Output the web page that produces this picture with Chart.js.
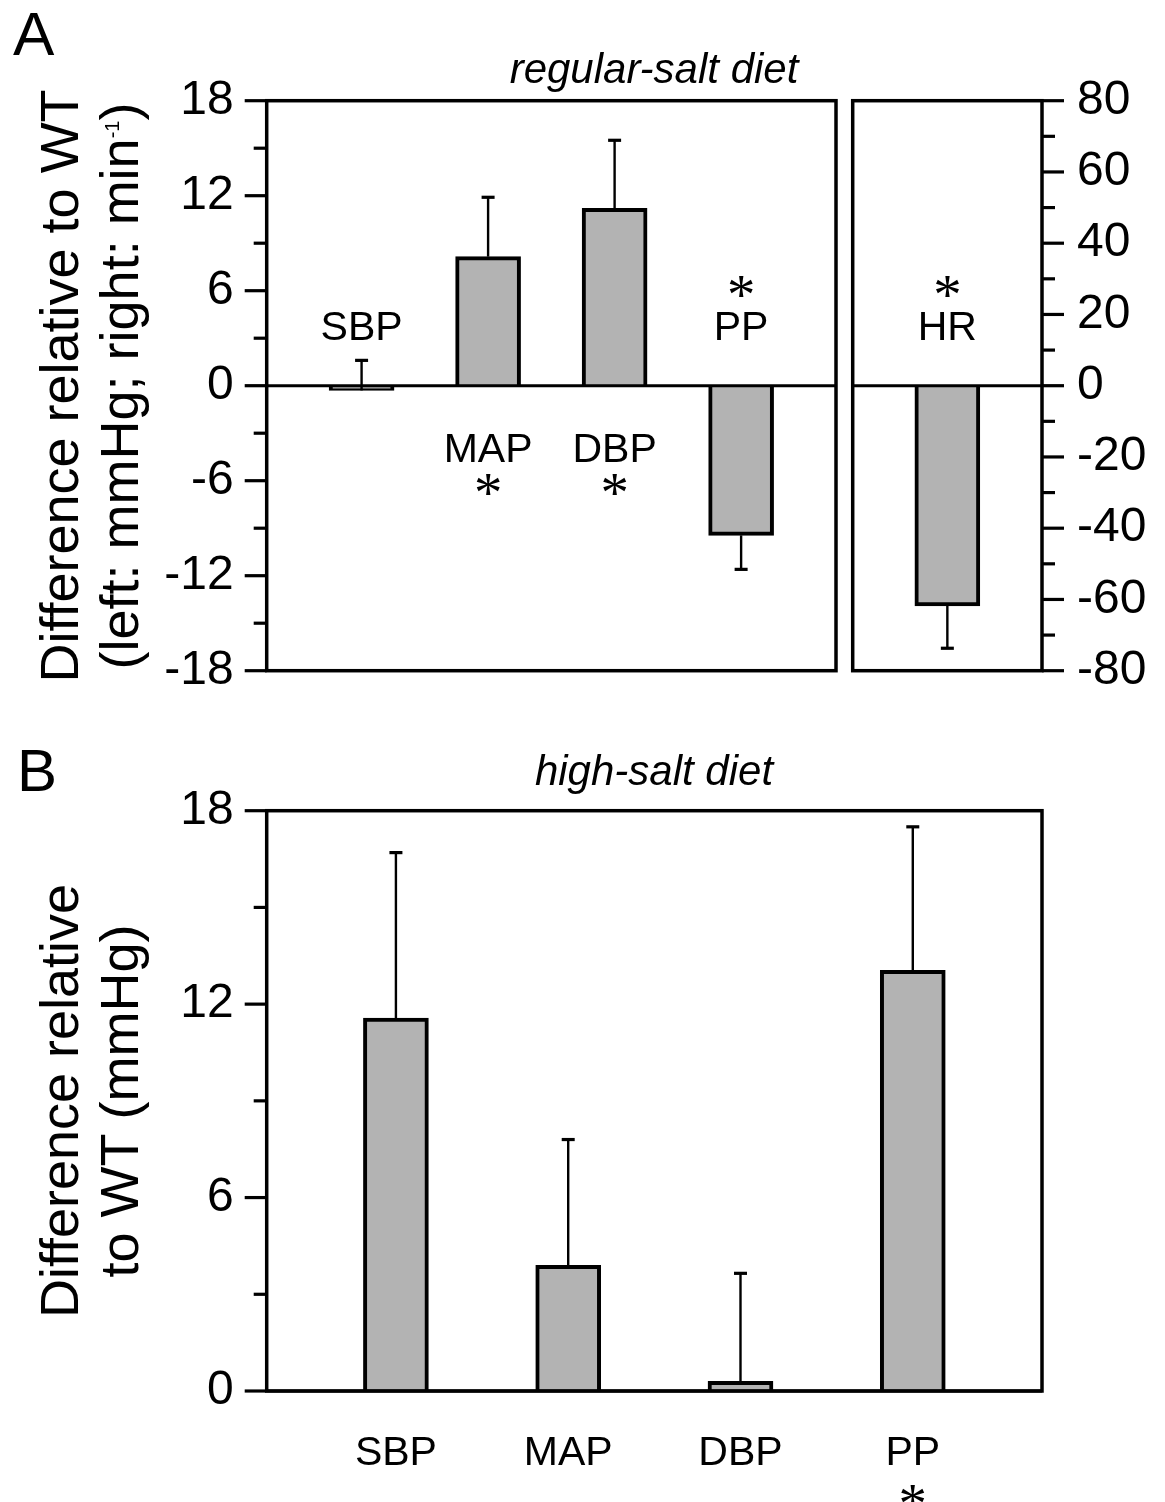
<!DOCTYPE html>
<html>
<head>
<meta charset="utf-8">
<script src="https://cdn.jsdelivr.net/npm/chart.js@4.4.0/dist/chart.umd.min.js"></script>
<style>
  html, body { margin: 0; padding: 0; background: #fff; }
  #page { position: relative; width: 1165px; height: 1502px; overflow: hidden;
          font-family: "Liberation Sans", Arial, sans-serif; color: #000; }
  #page canvas { position: absolute; left: 0; top: 0; }
  .txt { position: absolute; white-space: nowrap; line-height: 1; }
  .ytitle { position: absolute; width: 700px; height: 120px; font-size: 54px; line-height: 60px;
            text-align: center; white-space: nowrap; transform: rotate(-90deg); }
  .sup { font-size: 20px; position: relative; top: -19px; }
</style>
</head>
<body>
<div id="page">
  <canvas id="chartA" width="1165" height="1502"></canvas>
  <canvas id="chartHR" width="1165" height="1502"></canvas>
  <canvas id="chartB" width="1165" height="1502"></canvas>

  <div class="txt" style="left:13px; top:2.5px; font-size:62px;">A</div>
  <div class="txt" style="left:354px; width:600px; top:48.4px; font-size:42px; font-style:italic; text-align:center;">regular-salt diet</div>
  <div class="ytitle" style="left:-260.7px; top:325.7px;">Difference relative to WT<br>(left: mmHg; right: min<span class="sup">-1</span>)</div>

  <div class="txt" style="left:17px; top:741px; font-size:60px;">B</div>
  <div class="txt" style="left:354px; width:600px; top:750.4px; font-size:42px; font-style:italic; text-align:center;">high-salt diet</div>
  <div class="ytitle" style="left:-260.7px; top:1040.8px;">Difference relative<br>to WT (mmHg)</div>
</div>

<script>
// panel A, regular-salt diet (mmHg, left axis)
const categoriesA = ['SBP', 'MAP', 'DBP', 'PP'];
const regularSaltValues = [-0.3, 8.15, 11.2, -9.45];
const regularSaltErrorTips = [1.6, 11.9, 15.5, -11.6];
const regularSaltSignificant = [false, true, true, true];

// panel A, heart rate (min-1, right axis)
const categoriesHR = ['HR'];
const heartRateValues = [-61.8];
const heartRateErrorTips = [-73.7];
const heartRateSignificant = [true];

// panel B, high-salt diet (mmHg)
const categoriesB = ['SBP', 'MAP', 'DBP', 'PP'];
const highSaltValues = [11.57, 3.9, 0.3, 13.05];
const highSaltErrorTips = [16.7, 7.8, 3.65, 17.5];
const highSaltSignificant = [false, false, false, true];

// axis tick labels
const leftTicksA = [-18, -12, -6, 0, 6, 12, 18];
const rightTicksA = [-80, -60, -40, -20, 0, 20, 40, 60, 80];
const ticksB = [0, 6, 12, 18];

Chart.defaults.font.family = '"Liberation Sans", Arial, sans-serif';
Chart.defaults.color = '#000';

const BAR_FILL = '#b3b3b3';

function xy(vals) {
    return vals.map((v, i) => ({ x: i + 1, y: v }));
}

function line(ctx, x1, y1, x2, y2) {
    ctx.beginPath();
    ctx.moveTo(x1, y1);
    ctx.lineTo(x2, y2);
    ctx.stroke();
}

// asterisk scaled so the glyph is about 21px tall, centred on (x, cy)
function drawStar(ctx, x, cy) {
    ctx.font = '100px "Liberation Serif", serif';
    let m = ctx.measureText('*');
    const size = 100 * 21 / (m.actualBoundingBoxAscent + m.actualBoundingBoxDescent);
    ctx.font = size + 'px "Liberation Serif", serif';
    m = ctx.measureText('*');
    ctx.textAlign = 'center';
    ctx.textBaseline = 'alphabetic';
    ctx.fillText('*', x, cy + (m.actualBoundingBoxAscent - m.actualBoundingBoxDescent) / 2);
}

// zero line, error bars, frame, tick marks and category labels
const panelMarks = {
    id: 'panelMarks',
    afterDatasetsDraw(chart, args, opts) {
        const ctx = chart.ctx;
        const area = chart.chartArea;
        const y = chart.scales.y;
        const zero = y.getPixelForValue(0);
        const bars = chart.getDatasetMeta(0).data;
        const values = chart.data.datasets[0].data.map(d => d.y);

        ctx.save();
        ctx.strokeStyle = '#000';
        ctx.fillStyle = '#000';

        ctx.lineWidth = 3;
        line(ctx, area.left, zero, area.right, zero);

        bars.forEach((bar, i) => {
            const tip = y.getPixelForValue(opts.errorTips[i]);
            ctx.lineWidth = 2.4;
            line(ctx, bar.x, bar.y, bar.x, tip);
            ctx.lineWidth = 3.2;
            line(ctx, bar.x - 6.5, tip, bar.x + 6.5, tip);
        });

        ctx.lineWidth = 3.5;
        ctx.strokeRect(area.left, area.top, area.right - area.left, area.bottom - area.top);

        const ticks = y.ticks.map(t => t.value);
        const side = y.position === 'right' ? 1 : -1;
        const edge = side > 0 ? area.right : area.left;
        ctx.lineWidth = 3.2;
        ticks.forEach((v, k) => {
            const py = y.getPixelForValue(v);
            line(ctx, edge, py, edge + side * 22, py);
            if (k < ticks.length - 1) {
                const pm = y.getPixelForValue((v + ticks[k + 1]) / 2);
                line(ctx, edge, pm, edge + side * 13, pm);
            }
        });

        opts.labels.forEach((name, i) => {
            const bx = bars[i].x;
            let labelBase, starMid;
            if (opts.below) {
                labelBase = area.bottom + 74;
                starMid = area.bottom + 105;
            } else if (values[i] >= 0) {
                labelBase = zero + 76;
                starMid = zero + 99.5;
            } else {
                labelBase = zero - 46;
                starMid = zero - 99;
            }
            ctx.font = '41px "Liberation Sans", Arial, sans-serif';
            ctx.textAlign = 'center';
            ctx.textBaseline = 'alphabetic';
            ctx.fillText(name, bx, labelBase);
            if (opts.significant[i]) drawStar(ctx, bx, starMid);
        });
        ctx.restore();
    }
};

function barDataset(values) {
    return {
        data: xy(values),
        backgroundColor: BAR_FILL,
        borderColor: '#000',
        borderWidth: 4,
        barThickness: 65
    };
}

function yAxis(min, max, tickList, position, width, pad) {
    return {
        type: 'linear',
        position: position,
        min: min,
        max: max,
        grid: { display: false, drawTicks: false },
        border: { display: false },
        afterBuildTicks: s => { s.ticks = tickList.map(v => ({ value: v })); },
        afterFit: s => { s.width = width; },
        ticks: { padding: pad, autoSkip: false, font: { size: 48 }, color: '#000' }
    };
}

function makeChart(id, values, xMin, xMax, yScale, padding, marks) {
    return new Chart(document.getElementById(id), {
        type: 'bar',
        data: { datasets: [barDataset(values)] },
        options: {
            responsive: false,
            animation: false,
            devicePixelRatio: 1,
            layout: { padding: padding },
            plugins: {
                legend: { display: false },
                tooltip: { enabled: false },
                panelMarks: marks
            },
            scales: {
                x: { type: 'linear', min: xMin, max: xMax, offset: false, display: false },
                y: yScale
            }
        },
        plugins: [panelMarks]
    });
}

makeChart('chartA', regularSaltValues, 0.25, 4.75,
    yAxis(-18, 18, leftTicksA, 'left', 266.7, 33),
    { left: 0, top: 100.7, right: 329, bottom: 831.3 },
    { errorTips: regularSaltErrorTips, labels: categoriesA, significant: regularSaltSignificant, below: false });

makeChart('chartHR', heartRateValues, 0, 2,
    yAxis(-80, 80, rightTicksA, 'right', 123, 35),
    { left: 852.7, top: 100.7, right: 0, bottom: 831.3 },
    { errorTips: heartRateErrorTips, labels: categoriesHR, significant: heartRateSignificant, below: false });

makeChart('chartB', highSaltValues, 0.25, 4.75,
    yAxis(0, 18, ticksB, 'left', 266.7, 33),
    { left: 0, top: 810.7, right: 123, bottom: 111 },
    { errorTips: highSaltErrorTips, labels: categoriesB, significant: highSaltSignificant, below: true });
</script>
</body>
</html>
